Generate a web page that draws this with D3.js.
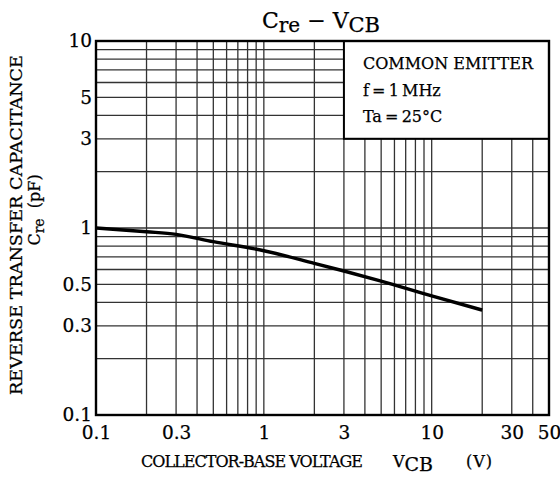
<!DOCTYPE html>
<html>
<head>
<meta charset="utf-8">
<script src="https://cdn.jsdelivr.net/npm/d3@7"></script>
<style>
  body { margin: 0; background: #fff; }
  text { font-family: "DejaVu Serif", "Liberation Serif", serif; fill: #000; stroke: #000; stroke-width: 0.25; }
</style>
</head>
<body>
<div id="chart"></div>
<script>
// curve
var vcb = [0.1, 0.2, 0.3, 0.5, 1, 2, 3, 5, 10, 20];
var cre = [1.0, 0.955, 0.925, 0.845, 0.756, 0.647, 0.589, 0.52, 0.433, 0.364];

var xTicks = [0.1, 0.3, 1, 3, 10, 30, 50];
var yTicks = [0.1, 0.3, 0.5, 1, 3, 5, 10];
var xGrid = [0.2, 0.3, 0.4, 0.5, 0.6, 0.7, 0.8, 0.9, 1, 2, 3, 4, 5, 6, 7, 8, 9, 10, 20, 30, 40];
var yGrid = [0.2, 0.3, 0.4, 0.5, 0.6, 0.7, 0.8, 0.9, 1, 2, 3, 4, 5, 6, 7, 8, 9];
var legendLines = ["COMMON EMITTER", "f\u2009=\u20091\u2009MHz", "Ta\u2009=\u200925\u00B0C"];

var margin = {top: 41, right: 11, bottom: 67, left: 96};
var width = 560 - margin.left - margin.right;
var height = 482 - margin.top - margin.bottom;

var svg = d3.select("#chart")
  .append("svg")
    .attr("width", 560)
    .attr("height", 482);

var g = svg.append("g")
    .attr("transform", "translate(" + margin.left + "," + margin.top + ")");

var x = d3.scaleLog().domain([0.1, 50]).range([0, width]);
var y = d3.scaleLog().domain([0.1, 10]).range([height, 0]);

// grid
g.selectAll(".vgrid").data(xGrid).enter().append("line")
  .attr("x1", d => x(d)).attr("x2", d => x(d))
  .attr("y1", 0).attr("y2", height)
  .attr("stroke", "#333").attr("stroke-width", 1.3);

g.selectAll(".hgrid").data(yGrid).enter().append("line")
  .attr("x1", 0).attr("x2", width)
  .attr("y1", d => y(d)).attr("y2", d => y(d))
  .attr("stroke", "#333").attr("stroke-width", 1.3);

// legend box covers upper right cells
g.append("rect")
  .attr("x", x(3)).attr("y", 0)
  .attr("width", width - x(3)).attr("height", y(3))
  .attr("fill", "#fff").attr("stroke", "#000").attr("stroke-width", 2);

var leg = g.append("g")
  .attr("transform", "translate(" + (x(3) + 19) + ",0)");
leg.selectAll("text").data(legendLines).enter().append("text")
  .attr("y", (d, i) => 28 + i * 26.5)
  .attr("font-size", 16)
  .text(d => d);

// frame
g.append("rect")
  .attr("width", width).attr("height", height)
  .attr("fill", "none").attr("stroke", "#000").attr("stroke-width", 2.4);

// curve
g.append("path")
  .datum(d3.zip(vcb, cre))
  .attr("fill", "none")
  .attr("stroke", "#000")
  .attr("stroke-width", 3.4)
  .attr("d", d3.line()
    .x(d => x(d[0]))
    .y(d => y(d[1]))
    .curve(d3.curveMonotoneX));

// axes (labels only)
var xAxis = g.append("g")
  .attr("transform", "translate(0," + height + ")")
  .call(d3.axisBottom(x).tickValues(xTicks).tickFormat(d3.format("")).tickSize(0).tickPadding(11));
var yAxis = g.append("g")
  .call(d3.axisLeft(y).tickValues(yTicks).tickFormat(d3.format("")).tickSize(0).tickPadding(4));
[xAxis, yAxis].forEach(function(a) {
  a.select(".domain").remove();
  a.selectAll("text").attr("font-size", 18.5).attr("font-family", "Liberation Serif, serif").attr("fill", "#000");
});

// title
var title = svg.append("text")
  .attr("x", 321).attr("y", 28)
  .attr("text-anchor", "middle")
  .attr("font-size", 22)
  .attr("xml:space", "preserve");
title.append("tspan").text("C");
title.append("tspan").attr("dy", 4).attr("font-size", 20).text("re");
title.append("tspan").attr("dy", -4).text(" \u2212 V");
title.append("tspan").attr("dy", 4).attr("font-size", 21).text("CB");

// x label
svg.append("text")
  .attr("x", 141).attr("y", 467)
  .attr("font-size", 16)
  .attr("font-family", "Liberation Serif, serif")
  .attr("textLength", 222).attr("lengthAdjust", "spacing")
  .text("COLLECTOR-BASE VOLTAGE");
var xv = svg.append("text")
  .attr("x", 393).attr("y", 467)
  .attr("font-size", 16);
xv.append("tspan").text("V");
xv.append("tspan").attr("dy", 4).attr("font-size", 19).text("CB");
svg.append("text")
  .attr("x", 466).attr("y", 467)
  .attr("font-size", 16)
  .attr("letter-spacing", 1)
  .text("(V)");

// y label
svg.append("text")
  .attr("transform", "translate(22,225) rotate(-90)")
  .attr("text-anchor", "middle")
  .attr("font-size", 16)
  .attr("textLength", 340).attr("lengthAdjust", "spacingAndGlyphs")
  .text("REVERSE TRANSFER CAPACITANCE");
var yl = svg.append("text")
  .attr("transform", "translate(40,210) rotate(-90)")
  .attr("text-anchor", "middle")
  .attr("font-size", 16)
  .attr("xml:space", "preserve");
yl.append("tspan").text("C");
yl.append("tspan").attr("dy", 4).attr("font-size", 14).text("re");
yl.append("tspan").attr("dy", -4).text("  (pF)");
</script>
</body>
</html>
